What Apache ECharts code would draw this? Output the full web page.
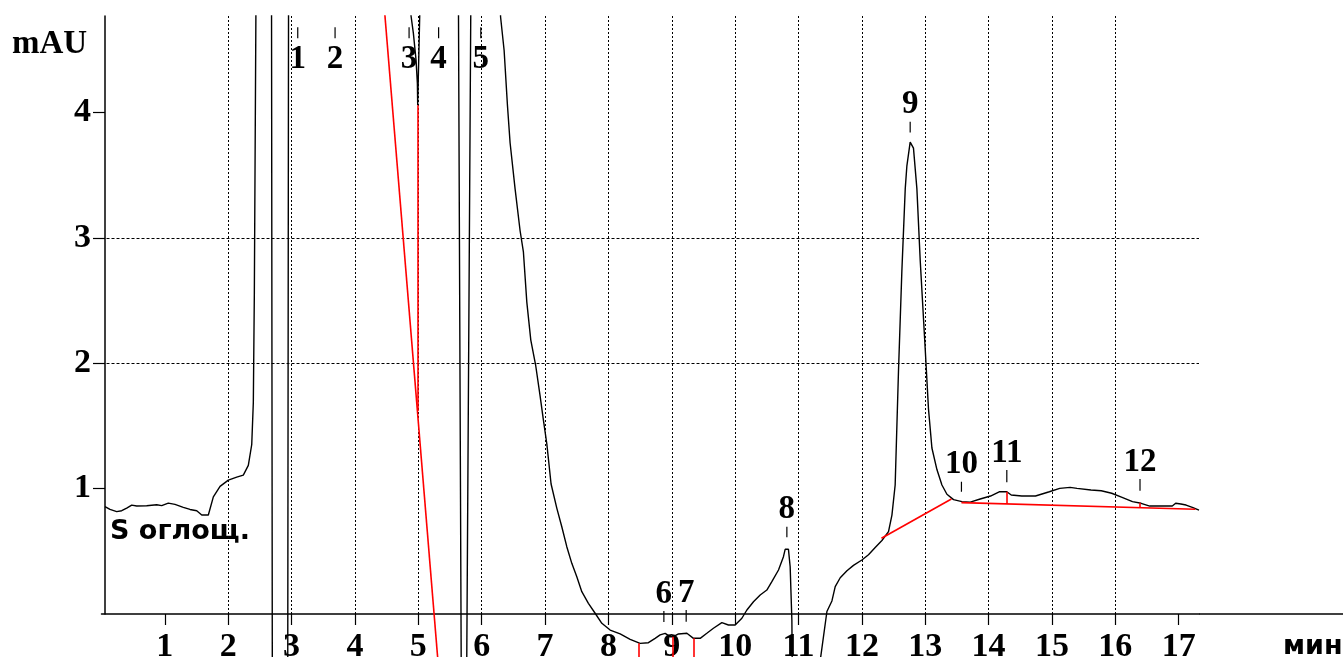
<!DOCTYPE html>
<html><head><meta charset="utf-8">
<script src="https://cdn.jsdelivr.net/npm/echarts@6/dist/echarts.min.js"></script>
<style>html,body{margin:0;padding:0;background:#fff;overflow:hidden}#c{width:1343px;height:657px}</style>
</head><body><div id="c"></div>
<script>
// ---- data (time in min, absorbance in mAU) ----
const traceTime = [0.055,0.134,0.240,0.319,0.398,0.477,0.556,0.713,0.871,0.950,
1.054,1.160,1.291,1.397,1.503,1.582,1.686,1.765,1.871,2.002,
2.134,2.238,2.317,2.371,2.396,2.412,2.439,2.683,2.696,2.939,
2.952,4.874,4.885,4.922,4.964,4.985,4.990,5.032,5.632,5.678,
5.762,5.830,6.284,6.298,6.354,6.406,6.448,6.527,6.606,6.658,
6.712,6.775,6.851,6.922,6.974,7.028,7.095,7.185,7.264,7.343,
7.422,7.501,7.580,7.684,7.790,7.896,8.027,8.185,8.343,8.500,
8.631,8.737,8.816,8.895,8.974,9.026,9.105,9.238,9.342,9.448,
9.553,9.657,9.790,9.894,10.000,10.106,10.185,10.289,10.395,10.500,
10.579,10.684,10.762,10.789,10.841,10.868,10.895,10.903,11.294,11.448,
11.527,11.579,11.658,11.764,11.867,12.000,12.104,12.210,12.316,12.420,
12.474,12.525,12.578,12.631,12.684,12.710,12.762,12.814,12.868,12.920,
12.999,13.051,13.105,13.184,13.263,13.342,13.446,13.579,13.710,13.867,
14.030,14.167,14.287,14.357,14.523,14.740,14.958,15.122,15.286,15.395,
15.615,15.777,15.942,16.106,16.270,16.406,16.543,16.707,16.898,16.952,
17.034,17.116,17.225,17.320];
const traceAbs = [0.857,0.834,0.817,0.824,0.844,0.868,0.861,0.864,0.871,0.864,
0.884,0.874,0.851,0.834,0.824,0.790,0.790,0.934,1.018,1.068,
1.092,1.108,1.185,1.352,1.687,2.556,5.0,5.0,-0.55,-0.55,
5.0,5.0,4.77,4.631,4.418,4.232,4.059,5.0,5.0,-0.55,
-0.55,5.0,5.0,4.762,4.495,4.060,3.759,3.391,3.057,2.889,
2.488,2.185,1.986,1.738,1.547,1.356,1.037,0.845,0.696,0.537,
0.404,0.297,0.178,0.085,0.006,-0.074,-0.128,-0.159,-0.202,-0.234,
-0.229,-0.194,-0.167,-0.154,-0.181,-0.181,-0.159,-0.154,-0.194,-0.194,
-0.154,-0.114,-0.069,-0.088,-0.088,-0.034,0.032,0.098,0.152,0.191,
0.258,0.351,0.457,0.516,0.516,0.377,-0.048,-0.55,-0.55,0.020,
0.104,0.218,0.289,0.345,0.388,0.431,0.473,0.530,0.586,0.657,
0.789,1.029,1.946,2.739,3.391,3.575,3.764,3.716,3.391,2.824,
2.116,1.635,1.324,1.152,1.029,0.955,0.912,0.896,0.892,0.917,
0.941,0.975,0.975,0.949,0.941,0.941,0.975,1.002,1.010,1.002,
0.989,0.983,0.963,0.931,0.896,0.883,0.861,0.861,0.861,0.883,
0.877,0.869,0.848,0.829];

// integration baselines / drop lines (pairs of [time, mAU])
const baselineSegments = [
  [[4.436, 5.0], [5.338, -0.55]],
  [[4.985, 4.059], [4.985, 1.62]],
  [[8.480, -0.234], [8.480, -0.45]],
  [[9.010, -0.181], [9.010, -0.45]],
  [[9.348, -0.194], [9.348, -0.45]],
  [[12.309, 0.604], [13.413, 0.917]],
  [[13.571, 0.888], [17.261, 0.835]],
  [[14.287, 0.975], [14.287, 0.878]],
  [[16.389, 0.887], [16.389, 0.850]]
];

// peak markers
const peakLabels = ['1','2','3','4','5','6','7','8','9','10','11','12'];
const peakTimes = [3.097,3.686,4.854,5.320,5.986,8.875,9.227,10.816,12.762,13.571,14.287,16.389];
const peakTickTop = [4.681,4.681,4.681,4.681,4.681,0.024,0.032,0.696,3.926,1.055,1.148,1.077];
const peakTickBottom = [4.593,4.593,4.593,4.593,4.593,-0.064,-0.061,0.612,3.841,0.975,1.050,0.983];

const xTickValues = [1,2,3,4,5,6,7,8,9,10,11,12,13,14,15,16,17];
const yTickValues = [1,2,3,4];
const X_MAX = 17.32, Y_MAX = 4.77, Y_LOW = -0.343;

// ---- chart ----
const serif = '"Liberation Serif","Times New Roman",serif';
const sans = '"DejaVu Sans","Liberation Sans",sans-serif';
const chart = echarts.init(document.getElementById('c'));

const traceData = traceTime.map((t, i) => [t, traceAbs[i]]);
const peakData = peakTimes.map((t, i) => [t, peakTickTop[i], peakTickBottom[i]]);

const texts = [
  {type: 'text', x: 12, y: 44, style: {text: 'mAU', fill: '#000', fontFamily: serif, fontWeight: 'bold', fontSize: 33, align: 'left', verticalAlign: 'middle'}},
  {type: 'text', x: 110, y: 532, style: {text: 'S оглощ.', fill: '#000', fontFamily: sans, fontWeight: 'bold', fontSize: 27, align: 'left', verticalAlign: 'middle'}},
  {type: 'text', x: 1283, y: 647, style: {text: 'мин', fill: '#000', fontFamily: sans, fontWeight: 'bold', fontSize: 27, align: 'left', verticalAlign: 'middle'}}
];

const option = {
  animation: false,
  backgroundColor: '#fff',
  grid: [
    {left: 101.5, right: 144, top: 16, bottom: 43, containLabel: false, outerBoundsMode: 'none'},
    {left: 101.5, right: 144, top: 16, bottom: 0, containLabel: false, outerBoundsMode: 'none'}
  ],
  xAxis: [
    {gridIndex: 0, type: 'value', min: 0, max: X_MAX, interval: 1,
     axisLine: {show: true, onZero: true, lineStyle: {color: '#000', width: 1.5}},
     axisTick: {show: true, length: 11, customValues: xTickValues, lineStyle: {color: '#000', width: 1.2}},
     axisLabel: {customValues: xTickValues, margin: 16, color: '#000', fontFamily: serif, fontWeight: 'bold', fontSize: 34},
     splitLine: {show: true, showMinLine: false, showMaxLine: false, lineStyle: {color: '#000', width: 1, type: [2, 2]}}},
    {gridIndex: 1, type: 'value', min: 0, max: X_MAX, show: false}
  ],
  yAxis: [
    {gridIndex: 0, type: 'value', min: 0, max: Y_MAX, interval: 1, offset: -3.5,
     axisLine: {show: true, lineStyle: {color: '#000', width: 1.5}},
     axisTick: {show: true, length: 12, customValues: yTickValues, lineStyle: {color: '#000', width: 1.2}},
     axisLabel: {customValues: yTickValues, margin: 14, color: '#000', fontFamily: serif, fontWeight: 'bold', fontSize: 34},
     splitLine: {show: true, showMinLine: false, showMaxLine: false, lineStyle: {color: '#000', width: 1, type: [3, 2]}}},
    {gridIndex: 1, type: 'value', min: Y_LOW, max: Y_MAX, show: false}
  ],
  series: [
    {type: 'line', xAxisIndex: 1, yAxisIndex: 1, data: traceData, showSymbol: false, symbol: 'none',
     clip: true, lineStyle: {color: '#000', width: 1.4}, z: 3},
    {type: 'lines', coordinateSystem: 'cartesian2d', xAxisIndex: 1, yAxisIndex: 1, clip: true,
     data: baselineSegments.map(s => ({coords: s})),
     lineStyle: {color: '#ff0000', width: 1.6, opacity: 1}, z: 4},
    {type: 'custom', xAxisIndex: 1, yAxisIndex: 1, clip: false, data: peakData, z: 5,
     renderItem: function (params, api) {
       const t = api.value(0), top = api.value(1), bot = api.value(2);
       const p1 = api.coord([t, top]);
       const p2 = api.coord([t, bot]);
       const below = top > 4.5;
       return {type: 'group', children: [
         {type: 'line', shape: {x1: p1[0], y1: p1[1], x2: p2[0], y2: p2[1]},
          style: {stroke: '#000', lineWidth: 1.2}},
         {type: 'text', x: p1[0], y: below ? p2[1] + 21 : p1[1] - 17,
          style: {text: peakLabels[params.dataIndex], fill: '#000', fontFamily: serif, fontWeight: 'bold',
                  fontSize: 33, align: 'center', verticalAlign: 'middle'}}
       ]};
     }}
  ],
  graphic: texts
};
chart.setOption(option);

// extend the time axis line to the right edge of the picture
const pEnd = chart.convertToPixel({gridIndex: 0}, [X_MAX, 0]);
chart.setOption({graphic: texts.concat([
  {type: 'line', shape: {x1: pEnd[0], y1: pEnd[1], x2: 1343, y2: pEnd[1]}, style: {stroke: '#000', lineWidth: 1.5}}
])}, {replaceMerge: ['graphic']});
</script>
</body></html>
